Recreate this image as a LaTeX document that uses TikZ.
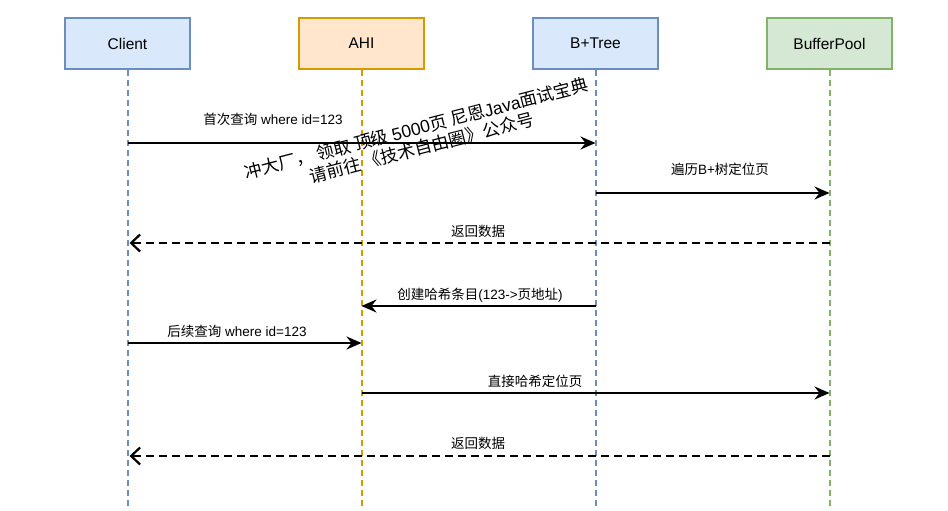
\documentclass[tikz,border=0pt]{standalone}
\usepackage{fontspec}
\setmainfont{Liberation Sans}
\newfontfamily\cjk{Noto Sans CJK SC}
\usetikzlibrary{arrows.meta,positioning}
\definecolor{blueFill}{HTML}{DAE8FC}
\definecolor{blueLine}{HTML}{6C8EBF}
\definecolor{orangeFill}{HTML}{FFE6CC}
\definecolor{orangeLine}{HTML}{D79B00}
\definecolor{greenFill}{HTML}{D5E8D4}
\definecolor{greenLine}{HTML}{82B366}
\newcommand{\zh}[1]{{\cjk #1}}

\begin{document}
\begin{tikzpicture}[x=1pt,y=-1pt,
    actor/.style={minimum width=125pt,minimum height=51pt,line width=2pt,
      font=\fontsize{15.5}{18}\selectfont},
    life/.style={line width=2pt,dash pattern=on 6pt off 4pt},
    call/.style={line width=2.2pt,-{Stealth[length=15pt,width=13pt,inset=5pt]}},
    reply/.style={line width=2.2pt,dash pattern=on 8pt off 5pt,
      -{Straight Barb[length=9pt,width=17pt,line width=2.2pt]}},
    msg/.style={inner sep=1pt,font=\fontsize{13.5}{15}\selectfont}]
  \useasboundingbox (0,0) rectangle (948,511);
  % participants
  \node[actor,draw=blueLine,fill=blueFill] (client) at (127.5,43.5) {Client};
  \node[actor,draw=orangeLine,fill=orangeFill,right=107pt of client] (ahi) {AHI};
  \node[actor,draw=blueLine,fill=blueFill,right=107pt of ahi] (tree) {B+Tree};
  \node[actor,draw=greenLine,fill=greenFill,right=107pt of tree] (pool) {BufferPool};
  \foreach \n/\c in {client/blueLine,ahi/orangeLine,tree/blueLine,pool/greenLine} {
    \draw[life,\c] (\n.south) -- (\n.south |- 0,507);
  }
  % message end points on the lifelines
  \foreach \n/\k in {client/c,ahi/a,tree/t,pool/p} {
    \foreach \i/\y in {1/143,2/193,3/243,4/306,5/343,6/393,7/456} {
      \coordinate (\k\i) at (\n |- 0,\y);
    }
  }
  % messages
  \draw[call] (c1) -- (t1);
  \draw[call] (t2) -- (p2);
  \draw[reply] (p3) -- ([xshift=2pt]c3);
  \draw[call] (t4) -- (a4);
  \draw[call] (c5) -- (a5);
  \draw[call] (a6) -- (p6);
  \draw[reply] (p7) -- ([xshift=2pt]c7);
  \node[msg] (l1) at (273,119) {\zh{首次查询} where id=123};
  \node[msg] (l2) at (720,169) {\zh{遍历}B+\zh{树定位页}};
  \node[msg] (l3) at (478,231) {\zh{返回数据}};
  \node[msg] (l4) at (480,295) {\zh{创建哈希条目}(123->\zh{页地址})};
  \node[msg] (l5) at (237,331) {\zh{后续查询} where id=123};
  \node[msg] (l6) at (535,381) {\zh{直接哈希定位页}};
  \node[msg] (l7) at (478,443) {\zh{返回数据}};
  % watermark
  \node[rotate=14.5,align=center,font=\fontsize{17.5}{20}\selectfont] (mark) at (419,138)
    {\zh{冲大厂， 领取 顶级 }5000\zh{页 尼恩}Java\zh{面试宝典}\\\zh{请前往 《技术自由圈》公众号}};
\end{tikzpicture}
\end{document}
